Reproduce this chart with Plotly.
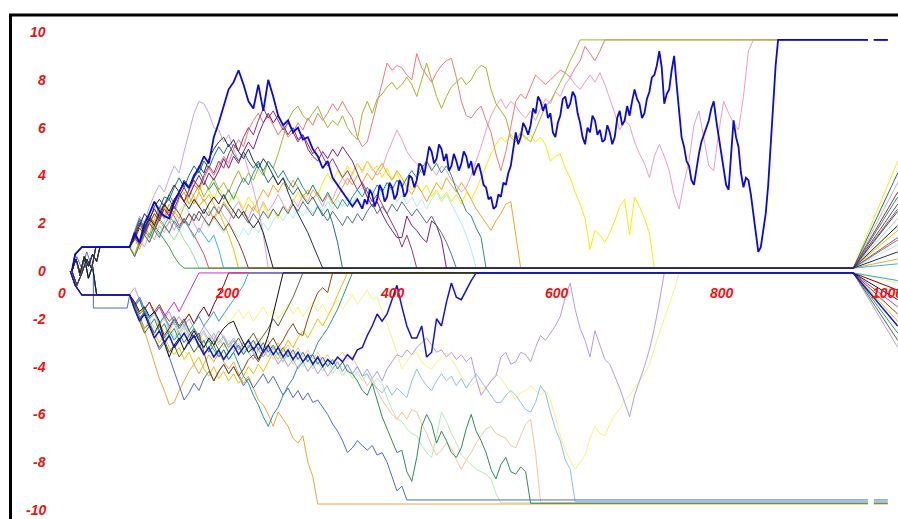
import plotly.graph_objects as go

# ---------------- layout constants (data units) ----------------
STEP = 6          # x spacing of the sampled walk values
X0 = 82           # x where every walk leaves the +/-1 start line
X_FAN = 959       # x where the zero-absorbed walks converge
X_FAN_END = 1013  # right edge
X_END = 1001      # end of the barrier lines
GAP = (977, 984)  # small gap in the barrier lines

X_TICKS = [0, 200, 400, 600, 800, 1000]
Y_TICKS = [10, 8, 6, 4, 2, 0, -2, -4, -6, -8, -10]

# ---------------- start segments (x, y) ----------------
PRE_UP_A_X = [12, 16, 24, 76]
PRE_UP_A_Y = [0, 0.7, 1.0, 1.0]
PRE_UP_B_X = [12, 17, 22, 27, 32, 37, 42, 46, 76]
PRE_UP_B_Y = [0, 0.5, -0.1, 0.6, 0.2, 0.7, 0.4, 1.0, 1.0]
PRE_UP_C_X = [12, 18, 24, 30, 36, 41, 76]
PRE_UP_C_Y = [0, -0.6, -0.1, 0.5, 0.1, 1.0, 1.0]
PRE_LO_A_X = [10, 16, 24, 76]
PRE_LO_A_Y = [0, -0.6, -1.0, -1.0]
PRE_LO_B_X = [12, 17, 22, 27, 32, 37, 42, 76]
PRE_LO_B_Y = [0, 0.5, -0.2, 0.6, -0.3, 0.2, -1.0, -1.0]
PRE_LO_C_X = [12, 18, 24, 30, 38, 38, 79]
PRE_LO_C_Y = [0, 0.6, 0.1, 0.8, 0.0, -1.55, -1.55]

# ---------------- upper walks (values every STEP from X0) ----------------
U1_BLUE_EARLY = [1.0,1.6,1.2,2.0,2.4, 2.9,2.5,2.3,2.2,2.9, 3.3,3.7,3.5,4.0,4.3, 4.8,4.5,5.6,6.2,6.9,
                 7.6,7.9,8.4,7.8,7.1, 6.8,7.8,6.7,8.0,7.3, 6.5,6.1,6.3,5.8,6.0, 5.5,5.6,5.1,4.8,4.3,
                 4.6,3.9,3.6,3.3,3.0, 2.7,3.0,2.6]
# second part of the same walk, every 3 units from x=364
U1_LATE_X0, U1_LATE_STEP = 364, 3
U1_BLUE_LATE = [2.6,3.0,2.8,3.4,3.2, 2.7,3.0,3.6,3.4,2.9, 3.1,3.7,3.5,3.0,3.2, 3.8,3.6,3.1,3.3,4.0,
                3.9,3.5,3.8,4.5,4.4, 4.0,4.6,5.2,5.0,4.5, 4.7,5.3,5.1,4.6,4.9, 4.2,4.4,4.9,4.6,4.2,
                4.5,5.0,4.8,4.3,4.6, 4.0,4.3,4.5,4.1,3.6, 3.5,3.0,3.1,2.6,2.7, 3.2,3.1,3.7,3.6,4.1,
                4.4,5.2,5.8,5.3,5.6, 6.2,6.0,5.7,6.1,6.8, 6.6,7.3,7.1,6.7,7.0, 6.4,6.6,5.8,5.6,6.2,
                6.5,7.2,7.3,6.8,7.0, 7.5,7.3,6.6,6.2,5.6, 5.3,6.0,5.8,6.5,6.3, 5.7,5.9,5.4,5.5,6.1,
                5.8,5.3,5.6,6.4,6.7, 6.1,6.3,6.9,6.5,7.1, 7.6,7.2,7.0,6.4,6.6, 7.2,7.5,8.1,8.2,8.6,
                9.2,8.5,7.0,7.4,7.6, 8.4,9.0,7.8,6.6,5.6, 5.2,4.6,4.4,3.8,3.6, 4.3,4.9,5.4,5.7,6.0,
                6.3,6.8,7.1,6.3,5.6, 4.8,4.2,3.6,3.4,5.0, 6.3,5.6,5.2,4.1,3.5, 3.9,3.8,3.2,2.5,1.6,
                0.8,1.0,1.7,2.4,3.6, 5.2,7.2,8.6,9.67]
U2_OLIVE = [1.0,0.6,1.3,1.9,1.5, 2.2,2.7,2.3,2.8,2.4, 3.0,3.3,2.8,3.2,3.6, 3.1,3.5,3.9,3.4,3.7,
            3.3,3.8,4.2,3.7,4.1, 3.8,4.3,4.0,4.6,4.3, 4.9,5.6,6.3,6.7,6.9, 6.5,6.3,6.6,6.9,6.4,
            6.0,6.3,6.1,6.5,6.0, 5.7,5.5,6.6,7.1,6.6, 7.2,7.4,7.7,7.9,7.6, 7.8,8.1,7.8,7.3,8.0,
            8.7,8.0,7.3,6.8,7.3, 7.7,7.9,8.1,7.8,8.0, 8.4,8.6,8.5,7.6,7.0, 6.7,6.4,5.6,5.4,5.8,
            5.6,5.4,5.9,6.4,6.9, 7.1,7.5,7.9,8.3,8.8, 9.2,9.67]
U3_SALMON = [1.0,1.5,1.1,1.8,2.3, 1.9,2.5,2.8,2.4,2.9, 3.3,2.9,3.2,3.6,3.4, 3.9,4.3,4.0,4.4,4.8,
             4.5,5.1,5.5,5.2,5.9, 6.3,6.6,6.2,6.5,6.1, 5.7,6.0,5.6,5.8,6.2, 5.9,6.4,6.1,6.6,6.3,
             6.6,7.0,6.7,7.1,6.7, 6.4,5.6,5.2,5.4,6.2, 7.0,7.9,8.7,8.4,8.6, 8.5,8.2,8.0,9.1,8.5,
             8.2,7.9,8.3,8.6,8.8, 8.9,8.1,7.1,6.5,6.4, 6.7,6.9,6.3,5.8,4.9, 4.2,5.0,6.0,7.1,7.4,
             7.2,7.7,8.2,8.0,7.8, 8.0,8.2,8.4,8.3,8.1, 8.5,8.8,9.4,9.1,8.8, 9.2,9.67]
U4_PINK = [1.0,0.7,1.3,1.0,1.6, 1.3,1.9,1.6,2.1,1.7, 2.2,2.0,2.4,2.0,1.6, 2.1,2.5,2.2,2.7,2.3,
           2.0,2.6,2.9,2.5,2.2, 2.7,2.4,2.9,2.5,2.8, 3.2,2.8,2.5,3.0,2.7, 3.2,2.9,3.4,3.1,2.7,
           3.2,3.0,3.5,3.9,3.6, 4.1,4.5,4.2,4.6,4.3, 4.0,4.3,4.9,5.4,5.9, 5.5,5.0,4.7,4.5,4.1,
           4.6,4.3,4.0,4.4,4.2, 3.8,3.6,3.3,3.5,4.0, 4.6,5.2,5.9,6.5,6.9, 7.2,6.8,7.1,6.9,6.6,
           6.4,6.7,6.3,6.8,7.2, 7.0,7.5,7.3,7.8,8.1, 7.8,7.6,7.9,8.2,7.9, 8.3,7.8,7.2,6.6,5.9,
           6.3,6.1,5.4,4.9,4.5, 3.9,4.8,5.3,4.8,4.2, 3.2,2.6,3.7,4.6,6.1, 6.7,5.5,4.4,4.2,5.8,
           7.1,6.6,6.2,5.9,7.3, 9.2,9.67]
U5_YELLOW = [1.0,1.5,1.9,1.5,2.0, 2.4,2.1,2.7,2.5,2.9, 3.3,2.9,3.4,3.8,3.3, 3.7,3.4,3.0,3.5,3.1,
             2.8,3.3,3.0,2.6,3.1, 2.8,2.4,2.8,2.3,2.6, 2.2,2.7,2.4,2.9,3.3, 2.9,3.2,3.6,3.2,3.7,
             4.1,3.7,4.2,3.9,4.4, 4.0,4.5,4.1,4.6,4.2, 4.4,3.9,4.3,3.8,4.1, 3.6,3.9,3.4,3.7,3.3,
             3.6,3.1,3.4,3.0,3.3, 2.9,3.2,2.8,3.3,3.0, 3.4,3.9,4.4,4.9,5.3, 5.6,5.4,5.7,5.5,5.8,
             5.5,5.7,5.4,5.6,5.3, 4.6,4.8,4.9,4.3,3.9, 3.3,2.8,2.2,0.9,1.7, 1.5,1.2,1.6,2.1,2.7,
             3.0,1.5,3.1,2.7,2.2, 1.6,0.12]
U6_ORANGE = [1.0,1.4,0.9,1.5,1.2, 1.7,2.1,1.8,2.0,2.5, 2.2,2.7,3.1,2.8,3.3, 2.9,3.2,2.8,2.4,2.9,
             2.6,2.2,2.6,2.3,2.8, 2.5,3.0,3.4,3.1,3.6, 3.3,3.7,3.4,3.8,3.5, 3.1,3.4,3.0,3.3,2.9,
             3.2,2.8,3.1,3.5,3.9, 3.6,4.0,3.7,4.1,3.8, 4.2,4.5,4.1,3.8,4.2, 3.9,3.5,3.2,3.6,3.3,
             2.9,3.3,3.7,3.4,3.9, 3.6,3.3,3.7,3.4,3.0, 2.6,2.3,2.0,1.7,2.1, 2.4,2.8,2.9,1.5,0.12]
U7_TEAL = [1.0,1.6,2.1,1.7,2.2, 2.6,2.3,2.8,3.2,2.8, 3.3,3.7,3.4,3.9,4.2, 3.8,3.4,3.7,3.3,3.0,
           3.4,3.0,3.5,3.9,3.6, 4.1,4.5,4.2,4.6,4.3, 3.9,4.2,3.8,3.5,3.9, 3.5,3.2,3.6,3.2,2.9,
           3.3,2.9,2.6,3.0,2.7, 3.1,3.4,3.1,3.5,3.2, 3.6,3.3,3.7,3.4,3.8, 3.5,3.9,4.2,3.9,4.3,
           4.6,4.2,4.5,4.1,4.4, 4.0,3.4,3.0,2.5,2.3, 1.8,1.4,0.12]
U8_CYAN = [1.0,0.6,1.2,1.6,1.3, 1.8,1.5,2.1,2.4,2.0, 2.5,2.8,2.4,2.1,2.5, 2.2,1.8,2.2,1.9,1.6,
           2.0,1.7,1.4,1.8,1.5, 1.9,1.6,2.0,1.7,2.1, 2.4,2.1,2.5,2.2,2.6, 2.3,2.7,2.4,2.8,2.5,
           2.9,2.6,3.0,2.7,3.1, 2.8,3.2,3.5,3.1,3.4, 3.0,3.3,3.6,3.3,2.9, 3.2,2.8,3.1,2.7,3.0,
           2.6,3.0,3.3,2.9,3.2, 2.8,2.4,2.0,1.5,0.9, 0.12]
U9_PURPLE = [1.0,1.5,2.0,1.6,2.2, 2.6,2.2,2.8,3.0,2.6, 3.1,3.5,3.1,3.6,4.0, 3.6,4.1,3.8,4.2,4.7,
             4.3,4.8,4.5,5.0,5.4, 5.1,5.7,6.2,6.6,6.2, 6.5,6.1,5.7,6.0,5.5, 5.7,5.1,4.8,4.6,5.0,
             4.7,5.1,4.8,5.2,4.9, 4.6,4.1,3.6,3.1,2.7, 2.9,2.4,2.0,1.7,1.4, 1.4,2.3,1.9,1.7,1.4,
             1.2,2.1,1.9,1.3,0.12]
U10_LAVENDER = [1.0,1.7,2.3,2.0,2.7, 3.2,3.6,3.3,3.9,4.4, 4.1,5.0,5.8,6.6,7.1, 7.0,6.6,6.0,5.9,5.4,
                5.7,5.1,4.6,4.9,4.2, 3.4,2.6,1.5,0.12]
U11_NAVY = [1.0,1.4,1.9,2.4,2.1, 2.7,3.0,2.7,3.2,3.6, 3.3,3.8,3.5,3.9,4.4, 4.1,4.7,5.1,5.4,5.6,
            5.2,5.5,5.0,4.7,5.1, 4.6,4.3,4.7,4.4,4.0, 3.6,3.9,3.3,2.8,2.4, 2.0,1.6,1.1,0.6,0.12]
U12_BLACK = [1.0,1.5,1.2,1.8,2.2, 1.9,2.4,2.8,2.5,3.0, 3.3,2.9,2.6,3.0,2.7, 2.4,2.8,3.1,2.8,3.2,
             2.8,2.5,2.2,2.5,2.1, 1.8,2.1,1.6,0.9,0.12]
U13_MAGENTA = [1.0,1.4,1.1,1.7,2.0, 1.7,2.2,2.6,2.3,2.8, 3.2,2.9,3.4,3.8,3.5, 4.0,4.4,4.1,4.6,4.3,
               4.9,5.3,5.0,5.6,6.0, 5.7,6.3,6.8,6.4,6.7, 6.3,5.9,6.2,5.8,5.4, 5.7,5.3,4.9,5.2,4.8,
               4.4,4.7,4.3,3.9,4.2, 3.8,3.4,3.7,3.3,2.9, 3.2,2.8,2.4,2.0,1.6, 1.0,1.5,0.9,0.12]
U14_STEEL = [1.0,0.6,1.1,1.5,1.2, 1.7,1.4,1.9,1.6,2.1, 1.8,2.2,1.9,2.4,2.1, 2.6,2.3,2.7,2.4,2.8,
             2.5,2.2,2.6,2.3,2.0, 2.4,2.1,2.5,2.2,2.6, 2.3,2.7,2.4,2.8,2.5, 2.9,2.6,2.3,2.7,2.4,
             2.1,2.5,2.2,1.9,2.3, 2.0,2.4,2.1,2.5,2.8, 2.4,2.7,2.4,2.8,2.5, 2.9,2.6,2.3,2.6,2.3,
             2.0,2.3,1.9,1.6,1.2, 0.7,0.12]
U15_DKTEAL = [1.0,1.6,2.2,1.8,2.4, 2.9,2.6,3.1,3.0,3.5, 3.9,3.5,4.0,4.4,4.1, 4.6,4.3,4.8,5.2,4.9,
              5.3,4.9,4.6,5.0,4.6, 4.3,4.6,4.1,3.7,4.0, 3.6,3.9,3.5,3.2,3.5, 3.1,2.8,3.1,2.7,2.3,
              2.6,2.0,1.2,0.12]
U16_SKY = [1.0,1.5,1.1,1.6,2.0, 1.7,2.2,1.9,2.3,2.0, 1.7,2.1,1.8,1.4,1.8, 1.5,1.2,1.5,0.9,0.12]
U17_LTGREEN = [1.0,1.4,1.9,1.6,2.1, 1.8,1.5,1.9,1.6,1.3, 1.7,1.3,1.0,0.6,0.12]
U18_BROWN = [1.0,1.3,1.8,1.5,2.0, 2.4,2.1,2.6,2.3,2.7, 2.4,2.0,2.4,2.1,2.5, 2.2,1.9,2.3,2.0,1.7,
             2.0,1.6,1.2,0.7,0.12]
U19_CORAL = [1.0,1.6,2.1,1.8,2.3, 2.0,2.5,2.2,2.6,2.3, 1.9,2.2,1.8,1.5,1.1, 0.7,0.12]
U20_GOLD = [1.0,0.7,1.2,1.7,2.1, 1.8,2.3,2.7,2.4,2.9, 3.2,2.9,3.4,3.1,2.7, 3.0,2.6,2.2,2.5,2.0,
            1.5,0.9,0.12]
U21_GREEN = [1.0,1.5,1.2,1.7,1.4, 1.9,1.6,1.3,1.0,0.6, 0.3,0.12]

# ---------------- lower walks ----------------
L1_GOLDENROD = [-1.0,-1.6,-2.0,-2.5,-3.2, -3.8,-4.5,-5.0,-5.6,-5.5, -5.0,-4.6,-4.2,-3.9,-4.3,
                -3.9,-3.5,-3.8,-3.4,-3.8, -4.1,-3.8,-4.3,-4.7,-4.4, -4.9,-5.4,-5.6,-6.0,-6.5,
                -5.9,-6.2,-6.5,-7.0,-7.2, -6.9,-8.0,-8.6,-9.75]
L2_PERIWINKLE = [-1.0,-1.5,-1.9,-2.4,-2.2, -2.8,-3.3,-3.0,-3.6,-4.2, -4.8,-5.4,-5.1,-4.7,-5.0,
                 -4.5,-4.2,-4.6,-4.2,-3.9, -4.3,-4.0,-4.4,-4.8,-4.5, -4.9,-4.6,-4.3,-4.7,-4.4,
                 -4.8,-5.2,-4.9,-5.3,-5.0, -5.4,-5.1,-5.5,-5.4,-5.7, -6.0,-6.4,-6.7,-7.1,-7.6,
                 -7.4,-7.1,-7.3,-7.5,-7.3, -7.7,-7.6,-8.0,-8.6,-9.2, -9.0,-9.58]
L3_SEAGREEN = [-1.0,-1.5,-1.2,-1.8,-2.3, -2.0,-2.5,-2.2,-2.7,-2.4, -2.9,-2.6,-3.0,-2.7,-3.2,
               -2.9,-3.4,-3.1,-3.6,-3.3, -3.7,-3.4,-3.1,-3.5,-3.2, -2.9,-3.3,-3.0,-3.4,-3.1,
               -3.5,-3.2,-3.6,-3.3,-3.7, -3.4,-3.8,-3.5,-3.9,-3.6, -4.0,-3.7,-4.1,-3.8,-4.2,
               -4.3,-4.6,-5.0,-5.2,-4.7, -5.4,-6.1,-6.6,-7.1,-7.6, -7.5,-8.4,-8.8,-7.8,-6.5,
               -6.0,-6.4,-7.2,-6.7,-7.1, -7.6,-7.8,-7.4,-6.6,-6.0, -6.7,-7.1,-7.6,-8.3,-8.7,
               -8.1,-7.8,-8.4,-8.5,-8.2, -8.4,-9.72]
L4_LTBLUE = [-1.0,-1.4,-1.1,-1.6,-2.0, -1.7,-2.2,-1.9,-2.4,-2.1, -2.6,-2.3,-2.7,-2.4,-2.8,
             -2.5,-2.9,-2.6,-3.0,-2.7, -3.1,-2.8,-3.2,-3.5,-3.1, -3.4,-3.7,-3.3,-3.6,-3.2,
             -3.5,-3.8,-3.4,-3.7,-3.4, -3.8,-3.5,-3.9,-3.6,-4.0, -3.7,-4.1,-3.8,-4.2,-3.9,
             -4.3,-4.0,-4.4,-4.3,-4.7, -4.9,-5.1,-4.8,-5.2,-4.9, -5.1,-5.3,-4.6,-4.1,-4.5,
             -4.8,-5.0,-4.6,-4.3,-4.6, -4.4,-4.8,-4.5,-4.9,-4.6, -4.3,-4.6,-4.9,-5.2,-5.5,
             -5.5,-5.2,-5.0,-5.2,-5.5, -5.8,-5.9,-5.5,-4.8,-5.1, -5.9,-6.6,-7.1,-7.9,-8.3,
             -9.65]
L5_LAVENDER = [-1.0,-0.7,-1.2,-1.6,-1.3, -1.8,-1.5,-2.0,-1.7,-2.2, -1.9,-2.3,-2.0,-2.4,-2.7,
               -2.3,-2.6,-2.9,-2.5,-2.8, -3.2,-2.9,-3.3,-3.0,-3.4, -3.7,-3.3,-3.6,-3.2,-3.5,
               -3.9,-3.6,-4.0,-3.7,-4.1, -3.8,-4.2,-3.9,-4.3,-4.0, -4.4,-4.1,-3.8,-4.2,-3.9,
               -4.3,-4.0,-4.4,-4.1,-4.5, -4.2,-4.6,-4.1,-3.8,-3.5, -3.6,-3.3,-3.5,-3.2,-3.0,
               -2.8,-3.1,-3.4,-3.3,-3.6, -3.4,-3.7,-3.5,-3.8,-3.6, -4.5,-5.2,-4.9,-4.6,-4.4,
               -3.6,-3.4,-3.9,-3.8,-3.4, -3.5,-3.8,-3.2,-2.7,-2.9, -2.6,-2.3,-1.9,-1.1,-0.5,
               -1.6,-2.4,-2.9,-3.6,-2.5, -3.1,-3.7,-3.9,-4.4,-4.9, -5.5,-6.1,-5.2,-4.6,-4.0,
               -3.3,-2.4,-1.3,-0.08]
L6_LTYELLOW = [-1.0,-1.4,-1.8,-1.5,-2.0, -1.7,-2.2,-1.9,-2.3,-2.0, -2.4,-2.1,-1.8,-2.2,-1.9,
               -2.3,-2.0,-1.7,-2.1,-1.8, -2.2,-1.9,-1.6,-2.0,-1.7, -2.1,-1.8,-1.5,-1.9,-1.6,
               -2.0,-1.7,-1.4,-1.8,-1.5, -1.9,-1.6,-1.3,-1.7,-1.4, -1.8,-1.5,-1.2,-1.6,-1.3,
               -1.0,-1.4,-1.1,-0.8,-1.2, -1.1,-1.7,-2.2,-2.8,-3.5, -4.1,-3.8,-3.5,-3.4,-3.8,
               -4.0,-4.1,-3.8,-3.6,-3.4, -3.7,-4.0,-4.4,-4.6,-4.8, -4.6,-5.0,-4.8,-4.6,-4.3,
               -4.5,-4.8,-5.1,-5.4,-5.1, -5.0,-4.8,-5.0,-5.2,-5.0, -5.4,-6.1,-6.9,-7.5,-7.9,
               -8.3,-8.0,-7.7,-7.0,-6.5, -6.8,-6.9,-6.4,-6.0,-5.8, -5.4,-5.2,-4.9,-4.6,-4.3,
               -3.9,-3.2,-2.6,-2.0,-1.4, -0.8,-0.08]
L7_PEACH = [-1.0,-1.5,-1.2,-1.7,-2.1, -1.8,-2.3,-2.0,-2.5,-2.2, -2.7,-2.4,-2.8,-2.5,-2.9,
            -2.6,-3.0,-2.7,-3.1,-2.8, -3.2,-2.9,-3.3,-3.0,-3.4, -3.1,-2.8,-3.2,-2.9,-3.3,
            -3.0,-3.4,-3.1,-3.5,-3.2, -3.6,-3.3,-3.7,-3.4,-3.8, -3.5,-3.9,-3.6,-3.4,-3.7,
            -3.6,-4.0,-4.4,-4.8,-4.5, -5.0,-5.4,-5.7,-6.0,-6.2, -5.9,-6.2,-5.8,-5.9,-6.4,
            -6.8,-7.3,-7.7,-7.5,-7.2, -7.4,-7.9,-8.3,-7.9,-7.6, -7.2,-6.9,-6.6,-6.5,-6.8,
            -6.9,-7.0,-7.3,-7.4,-6.9, -6.4,-6.2,-7.6,-9.68]
L8_LTGREEN = [-1.0,-1.3,-1.8,-1.5,-2.0, -2.4,-2.1,-2.6,-2.3,-2.8, -2.5,-2.2,-2.6,-2.9,-2.6,
              -3.0,-2.7,-3.1,-2.8,-3.2, -2.9,-3.3,-3.0,-3.4,-3.1, -3.5,-3.2,-3.6,-3.3,-3.7,
              -3.4,-3.8,-3.5,-3.9,-3.6, -4.0,-3.7,-4.1,-3.8,-4.2, -3.9,-4.3,-4.0,-4.4,-4.1,
              -4.5,-4.2,-4.6,-4.3,-4.7, -4.5,-4.7,-5.3,-5.8,-6.2, -6.3,-6.6,-6.8,-6.9,-7.3,
              -7.6,-7.8,-6.9,-5.9,-6.3, -6.8,-7.2,-7.7,-7.9,-8.1, -8.3,-8.4,-8.5,-8.7,-9.3,
              -9.7]
L9_DKBLUE = [-1.0,-1.6,-2.1,-1.8,-2.3, -2.8,-2.5,-3.0,-2.7,-3.2, -2.9,-2.6,-3.0,-2.7,-3.1,
             -3.5,-3.2,-3.6,-3.3,-3.7, -3.4,-3.1,-3.5,-3.2,-2.9, -3.3,-3.0,-3.4,-3.1,-3.5,
             -3.2,-3.6,-3.3,-3.7,-3.4, -3.8,-3.5,-3.9,-3.6,-4.0, -3.7,-3.9,-3.6,-3.8,-3.5,
             -3.7,-3.3,-3.2,-2.7,-2.3, -1.8,-2.1,-1.8,-1.2,-0.6, -1.5,-2.3,-2.8,-2.8,-2.3,
             -3.6,-3.4,-2.0,-2.3,-1.3, -0.5,-1.1,-1.2,-0.8,-0.4, -0.08]
L10_BLACK = [-1.0,-1.3,-1.7,-1.5,-1.9, -1.7,-2.1,-3.0,-3.6,-3.1, -2.8,-3.3,-2.9,-2.5,-2.9,
             -3.2,-2.8,-3.1,-2.7,-2.4, -2.2,-2.1,-2.6,-3.0,-3.4, -3.2,-3.7,-3.3,-2.7,-1.8,
             -1.0,-0.08]
L11_BROWN = [-1.0,-1.4,-1.8,-1.6,-1.3, -1.7,-1.4,-1.8,-2.1,-1.9, -2.3,-2.0,-2.5,-2.8,-2.6,
             -3.4,-4.1,-4.6,-4.2,-3.9, -4.3,-4.0,-4.4,-4.1,-3.7, -3.5,-3.8,-3.4,-3.1,-2.8,
             -3.2,-2.9,-2.5,-2.2,-2.6, -2.7,-2.0,-1.4,-0.9,-0.7, -0.9,-0.08]
L12_TEAL = [-1.0,-1.5,-2.0,-1.7,-2.2, -2.6,-2.3,-2.8,-2.5,-2.9, -2.6,-3.0,-2.7,-2.4,-2.8,
            -3.2,-2.9,-3.3,-3.6,-3.3, -3.7,-3.4,-3.9,-4.4,-4.7, -5.2,-5.6,-6.1,-6.5,-6.0,
            -5.7,-5.2,-4.8,-4.5,-4.0, -3.8,-3.6,-3.5,-3.0,-2.7, -2.4,-2.0,-1.6,-1.1,-0.6,
            -0.08]
L13_MAROON = [-1.0,-1.5,-2.0,-1.7,-2.2, -2.6,-2.2,-2.7,-2.4,-2.0, -2.4,-2.1,-1.8,-2.2,-1.8,
              -1.5,-1.9,-1.4,-1.0,-0.6, -0.08]
L14_MAGENTA = [-1.0,-1.4,-1.1,-1.6,-1.3, -1.8,-1.5,-1.9,-1.6,-1.3, -1.7,-1.3,-0.9,-0.5,-0.08]
L15_GOLD = [-1.0,-1.5,-2.0,-2.4,-2.1, -2.6,-3.0,-2.7,-3.2,-3.5, -3.2,-3.7,-3.4,-3.9,-3.6,
            -4.1,-4.4,-4.0,-4.5,-4.2, -4.6,-4.3,-4.7,-4.4,-4.0, -4.3,-3.9,-4.2,-3.8,-3.4,
            -3.7,-3.3,-2.9,-3.2,-2.8, -2.5,-2.8,-2.4,-2.0,-2.3, -1.9,-1.5,-1.0,-0.5,-0.08]
L16_SKY = [-1.0,-1.4,-1.1,-1.6,-2.0, -1.7,-2.2,-1.9,-2.3,-2.0, -2.4,-2.1,-2.5,-2.2,-1.9,
           -2.3,-2.0,-1.7,-2.1,-1.8, -1.5,-1.2,-0.9,-0.6,-0.08]
L17_DKOLIVE = [-1.0,-1.6,-2.1,-2.6,-2.3, -2.8,-3.2,-2.9,-3.4,-3.1, -3.6,-3.3,-3.0,-3.4,-3.1,
               -3.5,-3.2,-2.9,-3.3,-3.0, -3.4,-3.1,-2.8,-3.2,-2.9, -2.6,-3.0,-2.7,-2.4,-2.0,
               -2.3,-1.9,-1.5,-1.1,-0.6, -0.08]

# end values of the straight segments after x=959 (zero-absorbed walks only)
FAN_END = {
    "U5": 4.6, "U6": 0.5, "U7": 3.1, "U8": 1.1, "U9": 2.5, "U10": 3.7, "U11": 0.8,
    "U12": 1.9, "U13": 2.8, "U14": 1.4, "U15": 4.1, "U16": 0.3, "U17": 2.2,
    "U18": 3.3, "U19": 1.3, "U20": 1.7, "U21": 2.6,
    "L5": -3.2, "L6": -0.5, "L9": -2.3, "L10": -1.2, "L11": -1.8, "L12": -2.6,
    "L13": -0.8, "L14": -1.5, "L15": -2.1, "L16": -0.4, "L17": -2.9,
}

PRE = {
    "UA": (PRE_UP_A_X, PRE_UP_A_Y), "UB": (PRE_UP_B_X, PRE_UP_B_Y), "UC": (PRE_UP_C_X, PRE_UP_C_Y),
    "LA": (PRE_LO_A_X, PRE_LO_A_Y), "LB": (PRE_LO_B_X, PRE_LO_B_Y), "LC": (PRE_LO_C_X, PRE_LO_C_Y),
}

# draw order: first listed is drawn first (underneath)
WALKS = [
    ("L8", L8_LTGREEN, "#b4ecb4", "LB"), ("L7", L7_PEACH, "#f7c29a", "LA"),
    ("L6", L6_LTYELLOW, "#f6f47e", "LB"), ("L4", L4_LTBLUE, "#8cbfec", "LA"),
    ("L5", L5_LAVENDER, "#b898e8", "LB"), ("L1", L1_GOLDENROD, "#e8a63a", "LA"),
    ("L3", L3_SEAGREEN, "#2e8b57", "LB"), ("L2", L2_PERIWINKLE, "#4a68d8", "LC"),
    ("L13", L13_MAROON, "#800000", "LA"), ("L14", L14_MAGENTA, "#cc33cc", "LB"),
    ("L15", L15_GOLD, "#f0c000", "LA"), ("L16", L16_SKY, "#3aa0e0", "LB"),
    ("L17", L17_DKOLIVE, "#556b2f", "LA"), ("L12", L12_TEAL, "#2a9090", "LB"),
    ("L11", L11_BROWN, "#8b4513", "LA"), ("L10", L10_BLACK, "#111111", "LB"),
    ("L9", L9_DKBLUE, "#1414cc", "LA"),
    ("U8", U8_CYAN, "#a8eef8", "UB"), ("U17", U17_LTGREEN, "#98e098", "UC"),
    ("U10", U10_LAVENDER, "#c8a2f2", "UA"), ("U4", U4_PINK, "#f29ac4", "UB"),
    ("U5", U5_YELLOW, "#f4f000", "UC"), ("U20", U20_GOLD, "#e6c300", "UA"),
    ("U6", U6_ORANGE, "#f5a623", "UB"), ("U3", U3_SALMON, "#f07878", "UC"),
    ("U2", U2_OLIVE, "#a0b828", "UA"), ("U19", U19_CORAL, "#e05050", "UB"),
    ("U16", U16_SKY, "#3fb0e6", "UC"), ("U21", U21_GREEN, "#3a9a3a", "UA"),
    ("U18", U18_BROWN, "#8b3a1a", "UB"), ("U14", U14_STEEL, "#50708e", "UC"),
    ("U7", U7_TEAL, "#2a8a8a", "UA"), ("U15", U15_DKTEAL, "#1f6f70", "UB"),
    ("U13", U13_MAGENTA, "#a0306a", "UC"), ("U9", U9_PURPLE, "#7a1a8a", "UA"),
    ("U12", U12_BLACK, "#202020", "UB"), ("U11", U11_NAVY, "#1e2e5e", "UC"),
    ("U1", U1_BLUE_EARLY, "#0a0ad2", "UA"),
    ("U1", U1_BLUE_LATE, "#0a0ad2", None),
]
LINE_W = {"U1": 1.8, "L9": 1.5}

fig = go.Figure()
for name, ys, color, pre in WALKS:
    if pre is None:
        xs = [U1_LATE_X0 + U1_LATE_STEP * i for i in range(len(ys))]
        yv = list(ys)
    else:
        px, py = PRE[pre]
        xs = list(px) + [X0 + STEP * i for i in range(len(ys))]
        yv = list(py) + list(ys)
    last = ys[-1]
    if abs(last) > 9:
        xs += [GAP[0], None, GAP[1], X_END]
        yv += [last, None, last, last]
    elif name in FAN_END and abs(last) < 0.2:
        xs += [X_FAN, X_FAN_END]
        yv += [last, FAN_END[name]]
    fig.add_trace(go.Scatter(
        x=xs, y=yv, mode="lines", name=name, connectgaps=False,
        line=dict(color=color, width=LINE_W.get(name, 1.0)),
        hoverinfo="skip", showlegend=False))

LABEL_FONT = dict(family="Liberation Sans, Arial, sans-serif", size=14, color="#ee1111")
for v in Y_TICKS:
    fig.add_annotation(x=-17, y=v, text="<b><i>%d</i></b>" % v, showarrow=False,
                       xanchor="right", yanchor="middle", font=LABEL_FONT)
for v in X_TICKS:
    fig.add_annotation(x=v, y=-0.9, text="<b><i>%d</i></b>" % v, showarrow=False,
                       xanchor="center", yanchor="middle", font=LABEL_FONT)

# full-window figure; the page margin is removed in the post script below
W, H = 898, 519
fig.add_shape(type="line", xref="paper", yref="paper", x0=10.5 / W, x1=10.5 / W,
              y0=1 - 14 / H, y1=-0.02, line=dict(color="black", width=3))
fig.add_shape(type="line", xref="paper", yref="paper", x0=9 / W, x1=1.02,
              y0=1 - 15 / H, y1=1 - 15 / H, line=dict(color="black", width=3))

fig.update_layout(
    width=W, height=H, autosize=False,
    margin=dict(l=0, r=0, t=0, b=0, pad=0),
    paper_bgcolor="white", plot_bgcolor="white",
    xaxis=dict(range=[-62 / 0.825, (898 - 62) / 0.825], visible=False, fixedrange=True),
    yaxis=dict(range=[(271 - 519) / 23.9, 271 / 23.9], visible=False, fixedrange=True),
    showlegend=False,
)
fig.write_html(
    "out.html",
    config={"displayModeBar": False, "staticPlot": True},
    post_script="document.body.style.margin='0px';"
                "document.documentElement.style.overflow='hidden';"
                "document.body.style.overflow='hidden';",
)
